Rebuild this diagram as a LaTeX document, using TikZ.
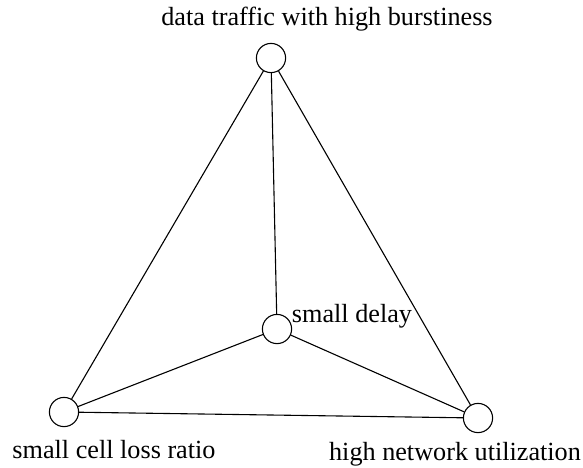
\documentclass[tikz,border=0pt]{standalone}
\usepackage{fontspec}
\newfontfamily\timesfont{Liberation Serif}
\usetikzlibrary{calc}
\tikzset{
  vertex/.style={circle, draw, line width=0.55pt, minimum size=14.6pt, inner sep=0pt},
  link/.style={draw, line width=0.55pt},
  lab/.style={font=\timesfont\fontsize{13.1}{15}\selectfont, inner sep=0pt, anchor=base}
}

\begin{document}
\begin{tikzpicture}[x=0.5pt, y=-0.5pt]
  \useasboundingbox (0,0) rectangle (583,467);

  \node[vertex] (burst) at (271,58) {};
  \node[vertex] (delay) at (277,329) {};
  \node[vertex] (loss) at (64,412) {};
  \node[vertex] (util) at (478,418) {};

  \draw[link] (burst) -- (loss);
  \draw[link] (burst) -- (util);
  \draw[link] (burst) -- (delay);
  \draw[link] (delay) -- (loss);
  \draw[link] (delay) -- (util);
  \draw[link] (loss) -- (util);

  \node[lab] (burstlab) at (327,25) {data traffic with high burstiness};
  \node[lab] (delaylab) at (352,322) {small delay};
  \node[lab] (losslab) at (114,458) {small cell loss ratio};
  \node[lab] (utillab) at (455,460) {high network utilization};
\end{tikzpicture}
\end{document}
